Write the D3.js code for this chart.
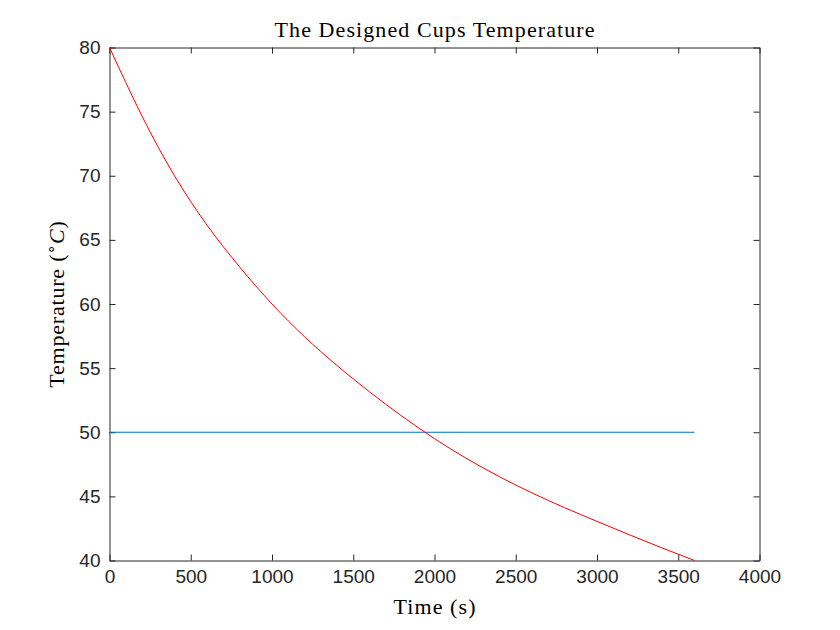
<!DOCTYPE html>
<html>
<head>
  <meta charset="utf-8">
  <script src="https://d3js.org/d3.v7.min.js"></script>
  <style>
    body { margin: 0; background: #fff; }
    .tick text { font-family: "Liberation Sans", Arial, sans-serif; font-size: 19px; fill: #262626; }
    .tick line, .domain { stroke: #262626; }
    .lbl { font-family: "Liberation Serif", "Times New Roman", serif; fill: #000; }
  </style>
</head>
<body>
<script>
  // time in seconds and the cup temperature
  var timeS = [0, 200, 400, 600, 800, 1000, 1200, 1400, 1600, 1800,
               2000, 2200, 2400, 2600, 2800, 3000, 3200, 3400, 3600];
  var cupTemp = [80, 74.65, 70.0, 66.15, 62.9, 60.0, 57.45, 55.2, 53.15, 51.25,
                 49.5, 47.93, 46.53, 45.27, 44.12, 43.05, 42.0, 40.98, 40.0];
  // target temperature line
  var targetTime = [0, 3600];
  var targetTemp = [50, 50];

  var xTicks = [0, 500, 1000, 1500, 2000, 2500, 3000, 3500, 4000];
  var yTicks = [40, 45, 50, 55, 60, 65, 70, 75, 80];

  var W = 840, H = 630;
  var axL = 109.5, axR = 759.5, axT = 47.5, axB = 560.5;

  var svg = d3.select("body").append("svg")
      .attr("width", W)
      .attr("height", H);

  var x = d3.scaleLinear().domain([0, 4000]).range([axL, axR]);
  var y = d3.scaleLinear().domain([40, 80]).range([axB, axT]);

  var tk = 6;
  var fmt = d3.format("d");

  svg.append("g")
      .attr("transform", "translate(0," + axB + ")")
      .call(d3.axisBottom(x).tickValues(xTicks).tickSizeInner(-tk).tickSizeOuter(0).tickPadding(9).tickFormat(fmt));
  svg.append("g")
      .attr("transform", "translate(0," + axT + ")")
      .call(d3.axisTop(x).tickValues(xTicks).tickSizeInner(-tk).tickSizeOuter(0).tickFormat(""));
  svg.append("g")
      .attr("transform", "translate(" + axL + ",0)")
      .call(d3.axisLeft(y).tickValues(yTicks).tickSizeInner(-tk).tickSizeOuter(0).tickPadding(9).tickFormat(fmt));
  svg.append("g")
      .attr("transform", "translate(" + axR + ",0)")
      .call(d3.axisRight(y).tickValues(yTicks).tickSizeInner(-tk).tickSizeOuter(0).tickFormat(""));

  svg.selectAll(".domain").attr("stroke-width", 1);

  var line = d3.line()
      .x(function(d) { return x(d[0]); })
      .y(function(d) { return y(d[1]); });

  svg.append("path")
      .datum(d3.zip(targetTime, targetTemp))
      .attr("fill", "none")
      .attr("stroke", "#0072BD")
      .attr("stroke-width", 1)
      .attr("d", line);

  svg.append("path")
      .datum(d3.zip(timeS, cupTemp))
      .attr("fill", "none")
      .attr("stroke", "#FF0000")
      .attr("stroke-width", 1)
      .attr("d", line.curve(d3.curveNatural));

  // title and axis labels
  svg.append("text")
      .attr("class", "lbl")
      .attr("x", (axL + axR) / 2)
      .attr("y", 37)
      .attr("text-anchor", "middle")
      .attr("textLength", 320)
      .style("font-size", "22px")
      .text("The Designed Cups Temperature");

  svg.append("text")
      .attr("class", "lbl")
      .attr("x", (axL + axR) / 2)
      .attr("y", 614)
      .attr("text-anchor", "middle")
      .attr("textLength", 82)
      .style("font-size", "22px")
      .text("Time (s)");

  var yl = svg.append("text")
      .attr("class", "lbl")
      .attr("transform", "translate(64," + ((axT + axB) / 2) + ") rotate(-90)")
      .attr("text-anchor", "middle")
      .style("font-size", "22px")
      .style("letter-spacing", "0.8px");
  yl.append("tspan").text("Temperature (");
  yl.append("tspan").attr("dy", -8).style("font-size", "15px").text("\u2218");
  yl.append("tspan").attr("dy", 8).style("font-style", "italic").text("C");
  yl.append("tspan").text(")");
</script>
</body>
</html>
